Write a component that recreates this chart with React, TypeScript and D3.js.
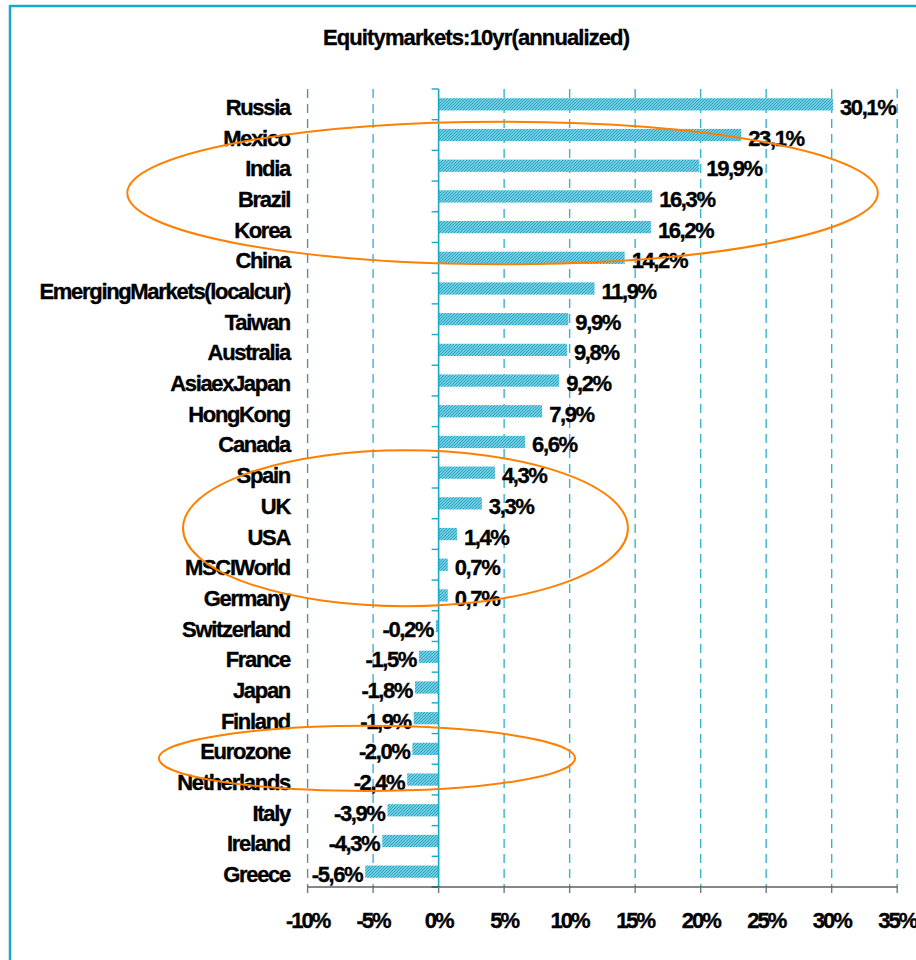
import { useMemo } from 'react'
import * as d3 from 'd3'

const categories = [
  'Russia', 'Mexico', 'India', 'Brazil', 'Korea', 'China',
  'Emerging Markets (local cur)', 'Taiwan', 'Australia', 'Asia ex Japan',
  'Hong Kong', 'Canada', 'Spain', 'UK', 'USA', 'MSCI World', 'Germany',
  'Switzerland', 'France', 'Japan', 'Finland', 'Eurozone', 'Netherlands',
  'Italy', 'Ireland', 'Greece',
]
const returns10y = [
  30.1, 23.1, 19.9, 16.3, 16.2, 14.2, 11.9, 9.9, 9.8, 9.2, 7.9, 6.6, 4.3,
  3.3, 1.4, 0.7, 0.7, -0.2, -1.5, -1.8, -1.9, -2.0, -2.4, -3.9, -4.3, -5.6,
]
const xTicks = [-10, -5, 0, 5, 10, 15, 20, 25, 30, 35]
const title = 'Equity markets: 10yr (annualized)'

// highlight ellipses in data units: centre (%, row index), radii (%, rows)
const highlightCx = [4.88, -2.53, -5.47]
const highlightCy = [2.89, 13.81, 21.31]
const highlightRx = [28.64, 16.98, 15.88]
const highlightRy = [2.32, 2.54, 1.06]

const W = 916
const H = 960
const CYAN = '#1aa8c8'
const FONT = '"Liberation Sans", Arial, sans-serif'

export default function App() {
  const x = useMemo(() => d3.scaleLinear().domain([-10, 35]).range([307.6, 897.2]), [])
  const y = useMemo(
    () => d3.scaleBand<string>().domain(categories).range([89, 887]).paddingInner(0.6).paddingOuter(0.3),
    []
  )
  const step = y.step()
  const rowCenter = (i: number) => (y(categories[0]) as number) + y.bandwidth() / 2 + i * step
  const pxPerPct = x(1) - x(0)
  const fmt = (v: number) => v.toFixed(1).replace('.', ',') + '%'

  const textStyle = {
    fontFamily: FONT, fontWeight: 700, fontSize: 22, letterSpacing: '-1.3px', wordSpacing: '-5px',
    stroke: '#000', strokeWidth: 0.35,
  } as const

  return (
    <div style={{ position: 'absolute', left: 0, top: 0 }}>
      <svg width={W} height={H} viewBox={`0 0 ${W} ${H}`} style={{ display: 'block', background: '#fff' }}>
        <defs>
          <pattern id="hatch" width="3" height="3" patternUnits="userSpaceOnUse">
            <rect width="3" height="3" fill="#9adbe9" />
            <path d="M-0.75,0.75 l1.5,-1.5 M0,3 l3,-3 M2.25,3.75 l1.5,-1.5" stroke="#1aa6c5" strokeWidth="1.1" />
          </pattern>
        </defs>

        {/* frame */}
        <rect x={10} y={6} width={1000} height={1000} fill="none" stroke={CYAN} strokeWidth={2.5} />

        {/* title */}
        <text x={476} y={45} textAnchor="middle" style={{ ...textStyle, letterSpacing: '-0.9px' }}>{title}</text>

        {/* grid */}
        {xTicks.filter(t => t !== 0).map(t => (
          <line key={t} x1={x(t)} x2={x(t)} y1={89} y2={887}
            stroke={t === -10 ? '#5a8f9c' : '#3ab4cd'} strokeWidth={1.4} strokeDasharray="9,6" />
        ))}

        {/* bars */}
        {categories.map((c, i) => {
          const v = returns10y[i]
          const x0 = x(Math.min(0, v))
          const x1 = x(Math.max(0, v))
          return (
            <rect key={c} x={x0} y={y(c)} width={Math.max(1, x1 - x0)} height={y.bandwidth()} fill="url(#hatch)" />
          )
        })}

        {/* zero axis with category ticks */}
        <line x1={x(0)} x2={x(0)} y1={89} y2={887} stroke={CYAN} strokeWidth={1.6} />
        {d3.range(categories.length + 1).map(i => {
          const yy = 89 + i * (798 / categories.length)
          return <line key={i} x1={x(0) - 7} x2={x(0)} y1={yy} y2={yy} stroke={CYAN} strokeWidth={1.4} />
        })}

        {/* x axis */}
        <line x1={x(-10)} x2={x(35)} y1={887} y2={887} stroke="#111" strokeWidth={1.2} />
        {xTicks.map(t => (
          <g key={t}>
            <line x1={x(t)} x2={x(t)} y1={887} y2={893} stroke="#777" strokeWidth={1.4} />
            <text x={x(t)} y={928} textAnchor="middle" style={{ ...textStyle, letterSpacing: '-2px' }}>{t}%</text>
          </g>
        ))}

        {/* category labels */}
        {categories.map((c, i) => (
          <text key={c} x={290} y={rowCenter(i) + 10.5} textAnchor="end" style={textStyle}>{c}</text>
        ))}

        {/* value labels */}
        {categories.map((c, i) => {
          const v = returns10y[i]
          const pos = v >= 0
          return (
            <text key={c} x={pos ? x(v) + 7 : x(v) - 3} y={rowCenter(i) + 10.5}
              textAnchor={pos ? 'start' : 'end'} style={{ ...textStyle, letterSpacing: '-1.4px' }}>
              {fmt(v)}
            </text>
          )
        })}

        {/* highlight ellipses */}
        {highlightCx.map((cx, i) => (
          <ellipse key={i} cx={x(cx)} cy={rowCenter(highlightCy[i])}
            rx={highlightRx[i] * pxPerPct} ry={highlightRy[i] * step}
            fill="none" stroke="#ff8000" strokeWidth={2} />
        ))}
      </svg>
    </div>
  )
}
